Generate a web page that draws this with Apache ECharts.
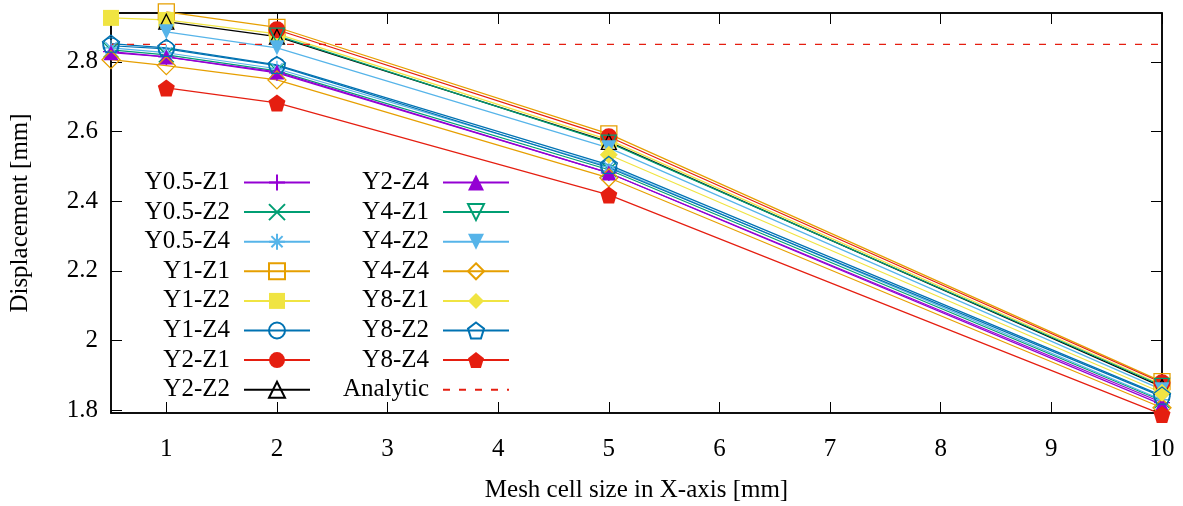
<!DOCTYPE html>
<html>
<head>
<meta charset="utf-8">
<script src="https://cdn.jsdelivr.net/npm/echarts@6/dist/echarts.min.js"></script>
<style>
html,body{margin:0;padding:0;background:#fff;}
#chart{width:1183px;height:506px;}
</style>
</head>
<body>
<div id="chart"></div>
<script>
// ---- data ----
const xValues = [0.5, 1, 2, 5, 10];
const xTicks = [1, 2, 3, 4, 5, 6, 7, 8, 9, 10];
const yTicks = [1.8, 2.0, 2.2, 2.4, 2.6, 2.8];

const seriesNames = ['Y0.5-Z1','Y0.5-Z2','Y0.5-Z4','Y1-Z1','Y1-Z2','Y1-Z4','Y2-Z1','Y2-Z2',
                     'Y2-Z4','Y4-Z1','Y4-Z2','Y4-Z4','Y8-Z1','Y8-Z2','Y8-Z4','Analytic'];

const y05z1 = [2.829, 2.814, 2.768, 2.481, 1.822];
const y05z2 = [2.834, 2.820, 2.774, 2.490, 1.827];
const y05z4 = [2.840, 2.826, 2.780, 2.499, 1.830];
const y1z1  = [null, 2.943, 2.899, 2.593, 1.882];
const y1z2  = [2.926, 2.920, 2.880, 2.576, 1.873];
const y1z4  = [2.846, 2.837, 2.789, 2.496, 1.839];
const y2z1  = [null, null, 2.892, 2.585, 1.879];
const y2z2  = [null, 2.915, 2.872, 2.570, 1.867];
const y2z4  = [2.826, 2.814, 2.771, 2.481, 1.816];
const y4z1  = [null, null, 2.875, 2.568, 1.870];
const y4z2  = [null, 2.886, 2.840, 2.553, 1.859];
const y4z4  = [2.806, 2.789, 2.748, 2.467, 1.807];
const y8z1  = [null, null, null, 2.533, 1.850];
const y8z2  = [2.852, 2.840, 2.791, 2.504, 1.842];
const y8z4  = [null, 2.725, 2.682, 2.418, 1.788];
const analyticValue = 2.85;
const analyticX = [0.5, 10];

const seriesValues = [y05z1, y05z2, y05z4, y1z1, y1z2, y1z4, y2z1, y2z2,
                      y2z4, y4z1, y4z2, y4z4, y8z1, y8z2, y8z4];

// ---- styles ----
const C = {purple:'#9400d3', green:'#009e73', lblue:'#56b4e9', orange:'#e69f00',
           yellow:'#f0e442', blue:'#0072b2', red:'#e51e10', black:'#000000'};
const P = {
  plus: 'path://M0,5L10,5M5,0L5,10',
  cross: 'path://M0,0L10,10M10,0L0,10',
  star: 'path://M5,0L5,10M0,5L10,5M1.5,1.5L8.5,8.5M8.5,1.5L1.5,8.5',
  pent: 'path://M5,0L10,3.8L8.1,10L1.9,10L0,3.8Z'
};
// [color, symbol, filled, rotate, size]
const styles = [
  [C.purple, P.plus, false, 0, 16],
  [C.green, P.cross, false, 0, 15],
  [C.lblue, P.star, false, 0, 16],
  [C.orange, 'rect', false, 0, 16],
  [C.yellow, 'rect', true, 0, 16],
  [C.blue, 'circle', false, 0, 16],
  [C.red, 'circle', true, 0, 17],
  [C.black, 'triangle', false, 0, 15],
  [C.purple, 'triangle', true, 0, 15],
  [C.green, 'triangle', false, 180, 15],
  [C.lblue, 'triangle', true, 180, 15],
  [C.orange, 'diamond', false, 0, 18],
  [C.yellow, 'diamond', true, 0, 18],
  [C.blue, P.pent, false, 0, 17],
  [C.red, P.pent, true, 0, 17]
];

const FONT = 'Liberation Serif';

const series = seriesValues.map((vals, i) => {
  const [col, sym, filled, rot, size] = styles[i];
  const data = [];
  vals.forEach((v, k) => { if (v !== null) data.push([xValues[k], v]); });
  return {
    name: seriesNames[i],
    type: 'line',
    data: data,
    clip: false,
    symbol: sym,
    symbolSize: size,
    symbolRotate: rot,
    showAllSymbol: true,
    lineStyle: {color: col, width: 1.2},
    itemStyle: filled ? {color: col, borderWidth: 0}
                      : {color: 'transparent', borderColor: col, borderWidth: 1.3},
    emphasis: {disabled: true},
    animation: false
  };
});
series.push({
  name: 'Analytic',
  type: 'line',
  data: analyticX.map(x => [x, analyticValue]),
  symbol: 'none',
  clip: false,
  lineStyle: {color: C.red, width: 1.2, type: [7, 9]},
  itemStyle: {color: C.red},
  emphasis: {disabled: true},
  animation: false
});

const legendCommon = {
  orient: 'vertical',
  align: 'right',
  padding: 0,
  itemWidth: 66,
  itemHeight: 20,
  itemGap: 4.6,
  selectedMode: false,
  textStyle: {fontFamily: FONT, fontSize: 25, color: '#000', width: 100, align: 'right',
              padding: [4, 9, 0, 0], lineHeight: 20}
};

const legendData1 = seriesNames.slice(0, 8);
const legendData2 = seriesNames.slice(8).map(n => n === 'Analytic'
  ? {name: n, itemStyle: {color: 'transparent', borderColor: 'transparent', borderWidth: 0}}
  : n);

const axisFont = {fontFamily: FONT, fontSize: 25, color: '#000'};

const option = {
  backgroundColor: '#fff',
  animation: false,
  grid: {left: 111, right: 21, top: 13, bottom: 93, containLabel: false, outerBoundsMode: 'none',
         show: true, borderColor: '#000', borderWidth: 1.5, backgroundColor: 'transparent'},
  legend: [
    Object.assign({}, legendCommon, {left: 130, top: 170, data: legendData1}),
    Object.assign({}, legendCommon, {left: 329, top: 170, data: legendData2})
  ],
  xAxis: [
    {type: 'value', min: 0.5, max: 10, position: 'bottom',
     axisLine: {show: true, onZero: false, lineStyle: {color: '#000', width: 1.5}},
     axisTick: {show: true, inside: true, length: 11, customValues: xTicks, lineStyle: {color: '#000', width: 1}},
     axisLabel: Object.assign({customValues: xTicks, margin: 24}, axisFont),
     splitLine: {show: false},
     name: 'Mesh cell size in X-axis [mm]', nameLocation: 'middle', nameGap: 65,
     nameTextStyle: axisFont},
    {type: 'value', min: 0.5, max: 10, position: 'top',
     axisLine: {show: true, onZero: false, lineStyle: {color: '#000', width: 1.5}},
     axisTick: {show: true, inside: true, length: 11, customValues: xTicks, lineStyle: {color: '#000', width: 1}},
     axisLabel: {show: false}, splitLine: {show: false}}
  ],
  yAxis: [
    {type: 'value', min: 1.792, max: 2.94, position: 'left',
     axisLine: {show: true, onZero: false, lineStyle: {color: '#000', width: 1.5}},
     axisTick: {show: true, inside: true, length: 11, customValues: yTicks, lineStyle: {color: '#000', width: 1}},
     axisLabel: Object.assign({customValues: yTicks, margin: 13, padding: [4, 0, 0, 0],
                               formatter: v => String(+v.toFixed(1))}, axisFont),
     splitLine: {show: false},
     name: 'Displacement [mm]', nameLocation: 'middle', nameGap: 78,
     nameTextStyle: axisFont},
    {type: 'value', min: 1.792, max: 2.94, position: 'right',
     axisLine: {show: true, onZero: false, lineStyle: {color: '#000', width: 1.5}},
     axisTick: {show: true, inside: true, length: 11, customValues: yTicks, lineStyle: {color: '#000', width: 1}},
     axisLabel: {show: false}, splitLine: {show: false}}
  ],
  series: series
};

const chart = echarts.init(document.getElementById('chart'), null, {renderer: 'canvas'});
chart.setOption(option);
</script>
</body>
</html>
